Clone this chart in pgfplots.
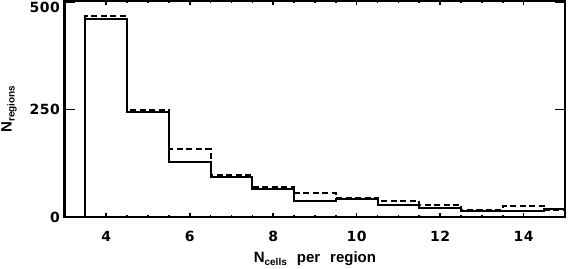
\documentclass[border=0pt]{standalone}
\usepackage{fontspec}
\setmainfont{Liberation Sans}[WordSpace=2.4]
\newfontfamily\tickfont{DejaVu Sans}[LetterSpace=4]
\usepackage{pgfplots}
\usepackage{pgfplotstable}
\pgfplotsset{compat=1.18}
\newcommand{\lblfont}{\fontsize{15bp}{17bp}\selectfont\bfseries}
\newcommand{\subs}[1]{\raisebox{-3bp}{\fontsize{10bp}{11bp}\selectfont\bfseries #1}}
\pgfplotstableread{
x solid dashed
3 0 0
4 461 468
5 244 250
6 128 159
7 94 98
8 65 71
9 37 56
10 42 44
11 29 39
12 21 29
13 15 17
14 15 27
15 19 17
}\hist
\begin{document}
\begin{tikzpicture}
\begin{axis}[
  scale only axis, width=500.8bp, height=216.5bp,
  xmin=3, xmax=15, ymin=0, ymax=503,
  xtick={4,6,...,14}, minor x tick num=3,
  ytick={0,250,500}, yticklabels={0,250,\raisebox{-10.6bp}[0pt][0pt]{500}},
  minor y tick num=0,
  /pgf/number format/assume math mode=true,
  tick align=inside,
  xtick style={/pgfplots/major tick length=4.5bp, /pgfplots/minor tick length=2.3bp, line width=1.6bp, black},
  ytick style={/pgfplots/major tick length=10bp, line width=1.6bp, black},
  axis line style={line width=2.2bp},
  tick label style={font=\tickfont\fontsize{14bp}{16bp}\selectfont\bfseries},
  xticklabel style={anchor=base, yshift=-24.4bp},
  yticklabel style={xshift=-1.0bp},
  xlabel={N\subs{cells} per region},
  ylabel={N\subs{regions}},
  every axis x label/.style={at={(axis description cs:0.5,0)}, anchor=base, yshift=-45bp, font=\lblfont},
  every axis y label/.style={at={(axis description cs:-0.1055,0.5)}, rotate=90, anchor=base, font=\lblfont},
]
\addplot[const plot mark mid, line width=2bp, black] table[x=x, y=solid] {\hist};
\addplot[const plot mark mid, line width=2bp, black, dash pattern=on 6bp off 3.5bp] table[x=x, y=dashed] {\hist};
\end{axis}
\pgfresetboundingbox
\path[use as bounding box] (current axis.south west) ++(-64.5bp,-51.7bp) rectangle ([shift={(2.7bp,0.8bp)}]current axis.north east);
\end{tikzpicture}
\end{document}
